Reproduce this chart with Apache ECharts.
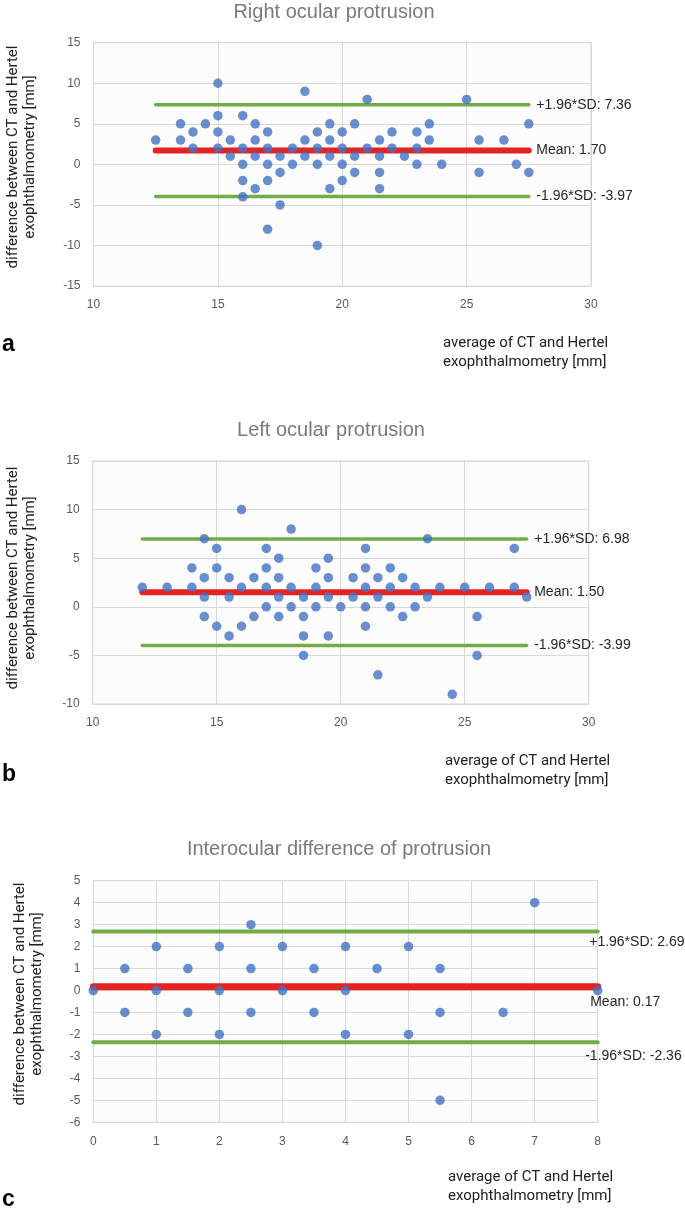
<!DOCTYPE html>
<html>
<head>
<meta charset="utf-8">
<script src="https://cdn.jsdelivr.net/npm/echarts@6/dist/echarts.min.js"></script>
<style>
  html, body { margin: 0; padding: 0; background: #ffffff; }
  #chart { width: 685px; height: 1211px; }
</style>
</head>
<body>
<div id="chart"></div>
<script>
// ---------- DATA ----------
const rightPoints = [[12.5,3],[13.5,5],[13.5,3],[14,4],[14,2],[14.5,5],[15,10],[15,6],[15,4],[15,2],[15.5,3],[15.5,1],[16,6],[16,2],[16,0],[16,-2],[16,-4],[16.5,5],[16.5,3],[16.5,1],[16.5,-3],[17,4],[17,2],[17,0],[17,-2],[17,-8],[17.5,1],[17.5,-1],[17.5,-5],[18,2],[18,0],[18.5,9],[18.5,3],[18.5,1],[19,4],[19,2],[19,0],[19,-10],[19.5,5],[19.5,3],[19.5,1],[19.5,-3],[20,4],[20,2],[20,0],[20,-2],[20.5,5],[20.5,1],[20.5,-1],[21,8],[21,2],[21.5,3],[21.5,1],[21.5,-1],[21.5,-3],[22,4],[22,2],[22.5,1],[23,4],[23,2],[23,0],[23.5,5],[23.5,3],[24,0],[25,8],[25.5,3],[25.5,-1],[26.5,3],[27,0],[27.5,5],[27.5,-1]];
const leftPoints = [[12,2],[13,2],[14,4],[14,2],[14.5,7],[14.5,3],[14.5,1],[14.5,-1],[15,6],[15,4],[15,-2],[15.5,3],[15.5,1],[15.5,-3],[16,10],[16,2],[16,-2],[16.5,3],[16.5,-1],[17,6],[17,4],[17,2],[17,0],[17.5,5],[17.5,3],[17.5,1],[17.5,-1],[18,8],[18,2],[18,0],[18.5,1],[18.5,-1],[18.5,-3],[18.5,-5],[19,4],[19,2],[19,0],[19.5,5],[19.5,3],[19.5,1],[19.5,-3],[20,0],[20.5,3],[20.5,1],[21,6],[21,4],[21,2],[21,0],[21,-2],[21.5,3],[21.5,1],[21.5,-7],[22,4],[22,2],[22,0],[22.5,3],[22.5,-1],[23,2],[23,0],[23.5,7],[23.5,1],[24,2],[24.5,-9],[25,2],[25.5,-1],[25.5,-5],[26,2],[27,6],[27,2],[27.5,1]];
const interPoints = [[0,0],[0.5,1],[0.5,-1],[1,2],[1,0],[1,-2],[1.5,1],[1.5,-1],[2,2],[2,0],[2,-2],[2.5,3],[2.5,1],[2.5,-1],[3,2],[3,0],[3.5,1],[3.5,-1],[4,2],[4,0],[4,-2],[4.5,1],[5,2],[5,-2],[5.5,1],[5.5,-1],[5.5,-5],[6.5,-1],[7,4],[8,0]];

// limits: [upper +1.96*SD, mean, lower -1.96*SD]
const rightLimits = [7.36, 1.70, -3.97];
const leftLimits = [6.98, 1.50, -3.99];
const interLimits = [2.69, 0.17, -2.36];

const chartTitles = ['Right ocular protrusion', 'Left ocular protrusion', 'Interocular difference of protrusion'];
const panelLetters = ['a', 'b', 'c'];
const yAxisTitle = 'difference between CT and Hertel\nexophthalmometry [mm]';
const xAxisTitle = 'average of CT and Hertel\nexophthalmometry [mm]';
const limitPrefixes = ['+1.96*SD: ', 'Mean: ', '-1.96*SD: '];

// axis ranges [min, max, interval]
const xRanges = [[10, 30, 5], [10, 30, 5], [0, 8, 1]];
const yRanges = [[-15, 15, 5], [-10, 15, 5], [-6, 5, 1]];

// ---------- LAYOUT / STYLE ----------
const grids = [
  { left: 93.5, top: 42.7, width: 497.5, height: 243.3 },
  { left: 92.7, top: 461, width: 496, height: 243 },
  { left: 93.3, top: 880.7, width: 504.4, height: 241.6 }
];
const labelFont = 'Liberation Sans, Arial, sans-serif';
const titleFont = 'Liberation Sans, Arial, sans-serif';
const axisTitleFont = 'Roboto, Liberation Sans, sans-serif';
const gridColor = '#d9d9d9';
const pointColor = '#4472C4';
const redColor = '#E42421';
const greenColor = '#70AD47';

// label placement per panel and per line (upper, mean, lower)
const labelPlacements = [
  [{ distance: 7, offset: [0, 0] }, { distance: 7, offset: [0, 0] }, { distance: 7, offset: [0, 0] }],
  [{ distance: 7, offset: [0, 0] }, { distance: 7, offset: [0, 0] }, { distance: 7, offset: [0, 0] }],
  [{ distance: 0, offset: [-9, 11] }, { distance: 0, offset: [-8, 15] }, { distance: 0, offset: [-13, 14] }]
];
const lineWidths = [[3.5, 6, 3.5], [3.5, 6, 3.5], [4, 7, 4]];

const panels = [
  { points: rightPoints, limits: rightLimits },
  { points: leftPoints, limits: leftLimits },
  { points: interPoints, limits: interLimits }
];

const option = {
  animation: false,
  backgroundColor: '#ffffff',
  grid: [],
  xAxis: [],
  yAxis: [],
  series: [],
  graphic: []
};

panels.forEach((p, i) => {
  const g = grids[i];
  option.grid.push(Object.assign({
    show: true, backgroundColor: '#fcfcfc', borderColor: gridColor, borderWidth: 1, containLabel: false
  }, g));
  option.xAxis.push({
    gridIndex: i, type: 'value',
    min: xRanges[i][0], max: xRanges[i][1], interval: xRanges[i][2],
    axisLine: { show: true, onZero: false, lineStyle: { color: gridColor } },
    axisTick: { show: false },
    splitLine: { show: true, lineStyle: { color: gridColor, width: 1 } },
    axisLabel: { color: '#595959', fontSize: 12, margin: 13, fontFamily: labelFont }
  });
  option.yAxis.push({
    gridIndex: i, type: 'value',
    min: yRanges[i][0], max: yRanges[i][1], interval: yRanges[i][2],
    axisLine: { show: true, onZero: false, lineStyle: { color: gridColor } },
    axisTick: { show: false },
    splitLine: { show: true, lineStyle: { color: gridColor, width: 1 } },
    axisLabel: { color: '#595959', fontSize: 12, margin: 13, fontFamily: labelFont }
  });

  const xs = p.points.map(d => d[0]);
  const xMin = Math.min.apply(null, xs);
  const xMax = Math.max.apply(null, xs);

  p.limits.forEach((v, k) => {
    const color = k === 1 ? redColor : greenColor;
    const pl = labelPlacements[i][k];
    option.series.push({
      type: 'line',
      xAxisIndex: i, yAxisIndex: i,
      clip: false,
      silent: true,
      z: 2,
      symbol: 'circle',
      symbolSize: 1,
      itemStyle: { color: color },
      lineStyle: { color: color, width: lineWidths[i][k], cap: 'round' },
      label: {
        show: false,
        position: 'right',
        distance: pl.distance,
        offset: pl.offset,
        color: '#262626',
        fontSize: 14,
        fontFamily: labelFont,
        formatter: () => limitPrefixes[k] + v.toFixed(2)
      },
      data: [[xMin, v], { value: [xMax, v], label: { show: true } }]
    });
  });

  option.series.push({
    type: 'scatter',
    xAxisIndex: i, yAxisIndex: i,
    clip: false,
    z: 5,
    symbol: 'circle',
    symbolSize: 9.5,
    itemStyle: { color: pointColor },
    data: p.points
  });
});

// ---------- TEXTS ----------
const titlePos = [[334, 12], [331, 430], [339, 849]];
const yTitlePos = [[21.5, 157], [21.5, 578], [28.5, 994]];
const xTitlePos = [[443, 343], [445, 761], [448, 1177]];
const letterPos = [[2, 345], [2, 775], [2, 1200]];

for (let i = 0; i < 3; i++) {
  option.graphic.push({
    type: 'text', x: titlePos[i][0], y: titlePos[i][1], silent: true,
    style: { text: chartTitles[i], fill: '#7a7a7a', font: '20px ' + titleFont, textAlign: 'center', textVerticalAlign: 'middle' }
  });
  option.graphic.push({
    type: 'text', x: yTitlePos[i][0], y: yTitlePos[i][1], rotation: Math.PI / 2, silent: true,
    style: { text: yAxisTitle, fill: '#212121', font: '15px ' + axisTitleFont, textAlign: 'center', textVerticalAlign: 'middle', lineHeight: 17 }
  });
  option.graphic.push({
    type: 'text', x: xTitlePos[i][0], y: xTitlePos[i][1] - 9.5, silent: true,
    style: { text: xAxisTitle, fill: '#212121', font: '15px ' + axisTitleFont, textAlign: 'left', textVerticalAlign: 'top', lineHeight: 19 }
  });
  option.graphic.push({
    type: 'text', x: letterPos[i][0], y: letterPos[i][1], silent: true,
    style: { text: panelLetters[i], fill: '#000000', font: 'bold 23px ' + titleFont, textAlign: 'left', textVerticalAlign: 'middle' }
  });
}

const chart = echarts.init(document.getElementById('chart'), null, { renderer: 'canvas' });
chart.setOption(option);
</script>
</body>
</html>
